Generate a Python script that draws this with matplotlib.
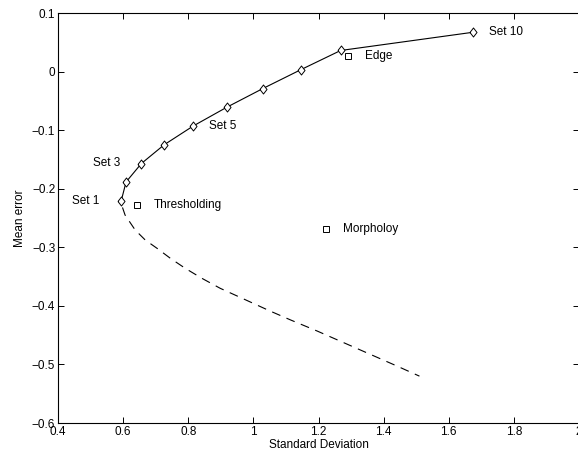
import matplotlib
matplotlib.use('Agg')
import matplotlib.pyplot as plt

# solid curve: Set 1 .. Set 10
set_x = [0.594, 0.609, 0.656, 0.726, 0.815, 0.918, 1.029, 1.145, 1.268, 1.673]
set_y = [-0.221, -0.1885, -0.157, -0.125, -0.093, -0.061, -0.029, 0.003, 0.036, 0.067]

# dashed curve
dash_x = [0.598, 0.606, 0.637, 0.668, 0.704, 0.745, 0.791, 0.842, 0.898, 0.955,
          1.052, 1.114, 1.196, 1.278, 1.360, 1.442, 1.510]
dash_y = [-0.232, -0.245, -0.2705, -0.2876, -0.3017, -0.3188, -0.336, -0.353, -0.370, -0.3844,
          -0.409, -0.424, -0.443, -0.463, -0.483, -0.503, -0.520]

# other methods
method_names = ['Thresholding', 'Edge', 'Morpholoy']
method_x = [0.644, 1.290, 1.224]
method_y = [-0.227, 0.027, -0.268]

set_labels = ['Set 1', 'Set 3', 'Set 5', 'Set 10']
set_label_x = [0.443, 0.508, 0.865, 1.724]
set_label_y = [-0.221, -0.156, -0.093, 0.067]
method_label_x = [0.695, 1.342, 1.275]

x_ticks = [0.4, 0.6, 0.8, 1.0, 1.2, 1.4, 1.6, 1.8, 2.0]
x_ticklabels = ['0.4', '0.6', '0.8', '1', '1.2', '1.4', '1.6', '1.8', '2']
y_ticks = [-0.6, -0.5, -0.4, -0.3, -0.2, -0.1, 0.0, 0.1]
y_ticklabels = ['\u22120.6', '\u22120.5', '\u22120.4', '\u22120.3', '\u22120.2', '\u22120.1', '0', '0.1']

plt.rcParams['font.family'] = ['Liberation Sans', 'DejaVu Sans']
FS = 8.5

fig = plt.figure(figsize=(5.78, 4.55), dpi=100)
ax = fig.add_axes([58 / 578, 32 / 455, 521 / 578, 410 / 455])

diamond = [(-0.78, 0), (0, 1), (0.78, 0), (0, -1), (-0.78, 0)]
ax.plot(set_x, set_y, color='black', lw=0.8, marker=diamond, markersize=6.5,
        mfc='white', mec='black', mew=0.7)
ax.plot(dash_x, dash_y, color='black', lw=0.8, linestyle=(0, (8, 6)))
ax.plot(method_x, method_y, linestyle='none', marker='s', markersize=3.8,
        mfc='none', mec='black', mew=0.7)

for name, x, y in zip(set_labels, set_label_x, set_label_y):
    ax.text(x, y, name, fontsize=FS, va='center', ha='left')
for name, x, y in zip(method_names, method_label_x, method_y):
    ax.text(x, y, name, fontsize=FS, va='center', ha='left')

ax.set_xlim(0.4, 2.0)
ax.set_ylim(-0.6, 0.1)
ax.set_xticks(x_ticks)
ax.set_xticklabels(x_ticklabels)
ax.set_yticks(y_ticks)
ax.set_yticklabels(y_ticklabels)
ax.tick_params(direction='in', top=True, right=True, length=4, width=0.7,
               labelsize=FS, pad=2, colors='black')
for sp in ax.spines.values():
    sp.set_linewidth(0.8)
ax.spines['right'].set_visible(False)

ax.set_xlabel('Standard Deviation', fontsize=FS, labelpad=1)
ax.set_ylabel('Mean error', fontsize=FS, labelpad=4)

fig.savefig('out.png', dpi=100)
